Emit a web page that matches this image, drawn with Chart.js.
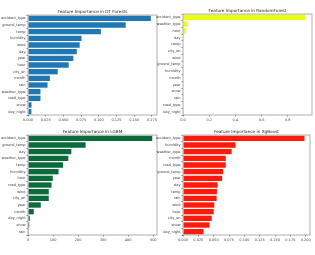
<!DOCTYPE html>
<html><head><meta charset="utf-8">
<script src="https://cdn.jsdelivr.net/npm/chart.js@4.4.1/dist/chart.umd.min.js"></script>
<style>
html,body{margin:0;padding:0;background:#fff;width:315px;height:255px;overflow:hidden}
canvas{position:absolute}
</style></head><body>
<canvas id="c1" style="left:0;top:0"></canvas>
<canvas id="c2" style="left:155px;top:0"></canvas>
<canvas id="c3" style="left:0;top:125px"></canvas>
<canvas id="c4" style="left:155px;top:125px"></canvas>
<script>
// ---- data ----
const dtLabels = ["accident_type","ground_temp","temp","humidity","wind","day","year","hour","city_en","month","rain","weather_type","road_type","snow","day_night"];
const dtValues = [0.1735,0.138,0.103,0.0756,0.073,0.069,0.064,0.0575,0.042,0.031,0.0276,0.0176,0.0176,0.005,0.0048];

const rfLabels = ["accident_type","weather_type","hour","day","temp","city_en","wind","ground_temp","humidity","month","year","snow","rain","road_type","day_night"];
const rfValues = [0.932,0.03,0.023,0.006,0.005,0.004,0.004,0.003,0.003,0.003,0.002,0.002,0.002,0.002,0.001];

const lgbmLabels = ["accident_type","ground_temp","day","weather_type","temp","humidity","hour","road_type","wind","city_en","year","month","day_night","snow","rain"];
const lgbmValues = [496,230,173,161,140,122,99,94,83,83,51,23,7,5,1];

const xgbLabels = ["accident_type","humidity","weather_type","month","road_type","ground_temp","year","day","temp","rain","wind","hour","city_en","snow","day_night"];
const xgbValues = [0.198,0.0856,0.0793,0.0697,0.0697,0.0654,0.0638,0.0564,0.0553,0.0548,0.051,0.05,0.0468,0.043,0.0335];

const FONT = "DejaVu Sans";
const frame = {
  id:'frame',
  afterDatasetsDraw(chart){
    const a = chart.chartArea, ctx = chart.ctx;
    ctx.save(); ctx.strokeStyle = '#999'; ctx.lineWidth = 0.8;
    ctx.strokeRect(a.left, a.top, a.right-a.left, a.bottom-a.top);
    ctx.restore();
  }
};

function make(id, w, h, labels, values, color, title, xmax, step, dec, leftW, topPad, bottomH, rightPad){
  const cv = document.getElementById(id);
  cv.width = w; cv.height = h; cv.style.width = w+'px'; cv.style.height = h+'px';
  new Chart(cv, {
    type:'bar',
    data:{labels:labels, datasets:[{data:values, backgroundColor:color, borderColor:color, borderWidth:0,
      barPercentage:0.8, categoryPercentage:1.0}]},
    options:{
      indexAxis:'y', responsive:false, animation:false, devicePixelRatio:1,
      layout:{padding:{left:0,right:rightPad,top:0,bottom:0}},
      plugins:{legend:{display:false}, tooltip:{enabled:false},
        title:{display:true, text:title, fullSize:false, color:'#222',
          font:{family:FONT,size:4.2,weight:'normal'}, padding:{top:topPad,bottom:1}}},
      scales:{
        x:{min:0, max:xmax, border:{display:false},
          grid:{display:true, drawOnChartArea:false, drawTicks:true, tickLength:1.5, color:'#888'},
          ticks:{stepSize:step, includeBounds:false, color:'#444', font:{family:FONT,size:3.5}, padding:1,
            maxRotation:0, autoSkip:false,
            callback:(v)=> dec>=0 ? Number(v).toFixed(dec) : v},
          afterFit:(s)=>{s.height = bottomH;}
        },
        y:{border:{display:false},
          grid:{display:true, drawOnChartArea:false, drawTicks:true, tickLength:1.5, color:'#888'},
          ticks:{color:'#444', font:{family:FONT,size:3.5}, padding:1, autoSkip:false},
          afterFit:(s)=>{s.width = leftW;}
        }
      }
    },
    plugins:[frame]
  });
}

make('c1',160,130,dtLabels,dtValues,'#1f77b4','Feature Importance in DT Forests',0.1822,0.025,3,28,9,15,3);
make('c2',160,130,rfLabels,rfValues,'#eaff12','Feature Importance in RandomForest',0.985,0.2,1,28,8,15,3);
make('c3',160,130,lgbmLabels,lgbmValues,'#0b6b3a','Feature Importance in LGBM',515,100,-1,28,4,20,3);
make('c4',160,130,xgbLabels,xgbValues,'#ff1a0a','Feature Importance in XgBoost',0.207,0.025,3,28,4,20,5);
</script>
</body></html>
